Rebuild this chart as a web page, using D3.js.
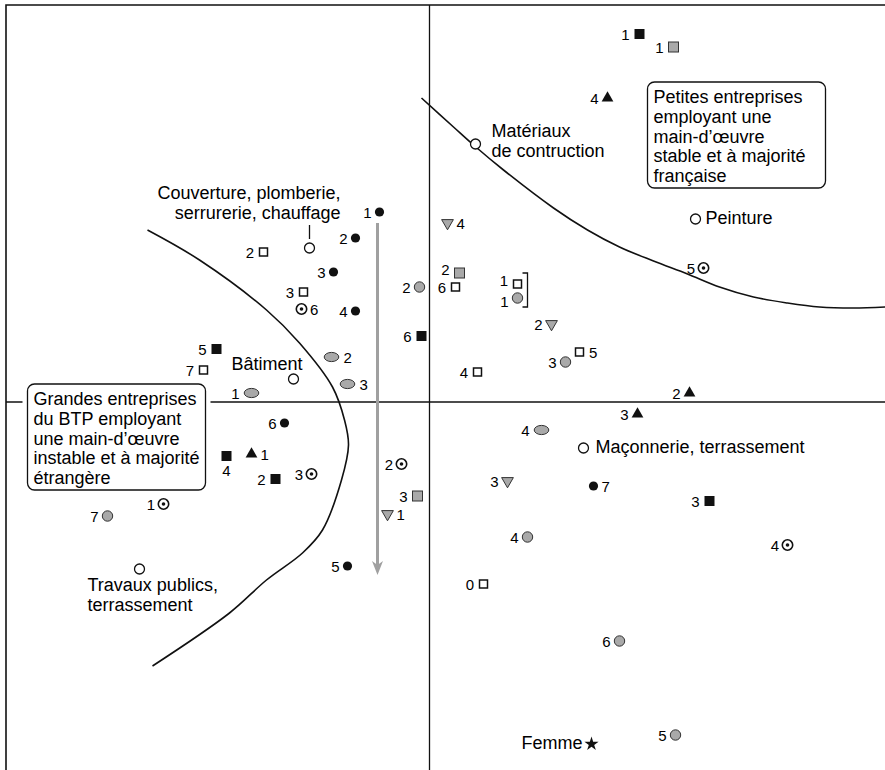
<!DOCTYPE html>
<html>
<head>
<meta charset="utf-8">
<script src="https://d3js.org/d3.v7.min.js"></script>
<style>
  body { margin: 0; background: #fff; }
  svg { display: block; font-family: "Liberation Sans", Arial, sans-serif; }
  .frame { stroke: #111; stroke-width: 1.6px; fill: none; }
  .axis { stroke: #111; stroke-width: 1.3px; fill: none; }
  .curve { stroke: #111; stroke-width: 1.6px; fill: none; }
  .num { font-size: 15px; fill: #000; }
  .lab { font-size: 18px; fill: #000; }
  .box rect { fill: #fff; stroke: #111; stroke-width: 1.3px; }
  .trend { stroke: #a0a0a0; stroke-width: 3px; fill: none; }
</style>
</head>
<body>
<script>
const blackDots = [
  {k: "1", x: -0.50, y: 1.90}, {k: "2", x: -0.74, y: 1.64}, {k: "3", x: -0.96, y: 1.30},
  {k: "4", x: -0.74, y: 0.91}, {k: "5", x: -0.82, y: -1.64}, {k: "6", x: -1.45, y: -0.21},
  {k: "7", x: 1.64, y: -0.84}
];
const openSquares = [
  {k: "0", x: 0.54, y: -1.82}, {k: "1", x: 0.88, y: 1.18}, {k: "2", x: -1.66, y: 1.50},
  {k: "3", x: -1.26, y: 1.10}, {k: "4", x: 0.48, y: 0.30}, {k: "5", x: 1.50, y: 0.50},
  {k: "6", x: 0.26, y: 1.15}, {k: "7", x: -2.26, y: 0.32}
];
const blackSquares = [
  {k: "1", x: 2.10, y: 3.68}, {k: "2", x: -1.54, y: -0.77}, {k: "3", x: 2.80, y: -0.99},
  {k: "4", x: -2.03, y: -0.54}, {k: "5", x: -2.13, y: 0.53}, {k: "6", x: -0.08, y: 0.66}
];
const greySquares = [
  {k: "1", x: 2.44, y: 3.55}, {k: "2", x: 0.30, y: 1.29}, {k: "3", x: -0.12, y: -0.94}
];
const greyDots = [
  {k: "1", x: 0.88, y: 1.04}, {k: "2", x: -0.10, y: 1.15}, {k: "3", x: 1.36, y: 0.40},
  {k: "4", x: 0.98, y: -1.35}, {k: "5", x: 2.46, y: -3.33}, {k: "6", x: 1.90, y: -2.39},
  {k: "7", x: -3.22, y: -1.14}
];
const greyEllipses = [
  {k: "1", x: -1.78, y: 0.09}, {k: "2", x: -0.98, y: 0.45}, {k: "3", x: -0.82, y: 0.18},
  {k: "4", x: 1.12, y: -0.28}
];
const targets = [
  {k: "1", x: -2.66, y: -1.02}, {k: "2", x: -0.28, y: -0.62}, {k: "3", x: -1.18, y: -0.72},
  {k: "4", x: 3.58, y: -1.43}, {k: "5", x: 2.74, y: 1.34}, {k: "6", x: -1.28, y: 0.93}
];
const upTriangles = [
  {k: "1", x: -1.78, y: -0.52}, {k: "2", x: 2.60, y: 0.09}, {k: "3", x: 2.08, y: -0.12},
  {k: "4", x: 1.78, y: 3.04}
];
const downTriangles = [
  {k: "1", x: -0.42, y: -1.12}, {k: "2", x: 1.22, y: 0.78}, {k: "3", x: 0.78, y: -0.79},
  {k: "4", x: 0.18, y: 1.79}
];
const sectors = [
  {name: ["Couverture, plomberie,", "serrurerie, chauffage"], x: -1.20, y: 1.54},
  {name: ["Bâtiment"], x: -1.36, y: 0.23},
  {name: ["Matériaux", "de contruction"], x: 0.46, y: 2.58},
  {name: ["Peinture"], x: 2.66, y: 1.83},
  {name: ["Maçonnerie, terrassement"], x: 1.54, y: -0.46},
  {name: ["Travaux publics,", "terrassement"], x: -2.90, y: -1.67}
];
const femme = {name: "Femme", x: 1.62, y: -3.42};

// trajectoire (flèche grise) et crochet 1□/1●
const trend = [{x: -0.52, y: 1.79}, {x: -0.52, y: -1.73}];
const bracket = {x: 0.98, y1: 1.29, y2: 0.95};

// courbes délimitant les deux pôles
const curveLeft = [
  [-2.82, 1.72], [-2.30, 1.42], [-1.63, 0.92], [-1.30, 0.59], [-0.97, 0.15],
  [-0.85, -0.18], [-0.81, -0.43], [-0.88, -0.78], [-1.07, -1.28], [-1.27, -1.51],
  [-1.63, -1.78], [-2.00, -2.11], [-2.77, -2.64]
];
const curveRight = [
  [-0.08, 3.04], [0.24, 2.75], [0.44, 2.57], [0.74, 2.32], [1.24, 1.94], [1.58, 1.72],
  [1.90, 1.55], [2.24, 1.41], [2.58, 1.28], [2.90, 1.15], [3.24, 1.05], [3.58, 0.99],
  [3.90, 0.95], [4.24, 0.94], [4.56, 0.95]
];
const boxes = [
  {lines: ["Grandes entreprises", "du BTP employant", "une main-d\u2019œuvre", "instable et à majorité", "étrangère"], x: -4.02, y: 0.18},
  {lines: ["Petites entreprises", "employant une", "main-d\u2019œuvre", "stable et à majorité", "française"], x: 2.18, y: 3.20}
];

// labels placés à droite (ou dessous) du symbole ; par défaut à gauche
const rightLabels = {dot: ["7"], osq: ["5"], ell: ["2", "3"], target: ["6"], up: ["1"], down: ["1", "4"]};
const belowLabels = {bsq: ["4"]};
const raisedLabels = {gsq: ["2"], osq: ["1"]};
const loweredLabels = {gdot: ["1"]};

const width = 885, height = 770;

const x = d3.scaleLinear().domain([-4.3, 4.6]).range([-0.5, 889.5]);
const y = d3.scaleLinear().domain([4.0, -3.7]).range([2, 772]);

const svg = d3.select("body").append("svg")
  .attr("width", width)
  .attr("height", height);

// cadre (coupé à droite et en bas)
svg.append("path").attr("class", "frame")
  .attr("d", "M6," + height + "V5H" + width);

// axes factoriels
svg.append("line").attr("class", "axis")
  .attr("x1", x(0)).attr("x2", x(0)).attr("y1", 5).attr("y2", height);
svg.append("line").attr("class", "axis")
  .attr("x1", 6).attr("x2", width).attr("y1", y(0)).attr("y2", y(0));

let line = d3.line().x(d => x(d[0])).y(d => y(d[1])).curve(d3.curveCatmullRom);
svg.append("path").attr("class", "curve").attr("d", line(curveLeft));
svg.append("path").attr("class", "curve").attr("d", line(curveRight));

// flèche grise
let tx = x(trend[0].x), ty1 = y(trend[0].y), ty2 = y(trend[1].y);
svg.append("line").attr("class", "trend")
  .attr("x1", tx).attr("x2", tx).attr("y1", ty1).attr("y2", ty2 - 8);
svg.append("path")
  .attr("fill", "#a0a0a0")
  .attr("d", `M${tx},${ty2}L${tx - 5.5},${ty2 - 14}L${tx},${ty2 - 10}L${tx + 5.5},${ty2 - 14}Z`);

// crochet
svg.append("path").attr("class", "axis")
  .attr("d", `M${x(bracket.x) - 5},${y(bracket.y1)}H${x(bracket.x)}V${y(bracket.y2)}H${x(bracket.x) - 5}`);

// encadrés
boxes.forEach(b => {
  let g = svg.append("g").attr("class", "box")
    .attr("transform", `translate(${x(b.x)},${y(b.y)})`);
  g.append("rect").attr("x", -5).attr("y", 0).attr("width", 188).attr("height", 106)
    .style("stroke", "none");
  g.append("rect").attr("x", 0).attr("y", 0).attr("width", 178).attr("height", 106)
    .attr("rx", 7);
  g.selectAll("text").data(b.lines).join("text")
    .attr("class", "lab")
    .attr("x", 6)
    .attr("y", (d, i) => 21 + i * 19.8)
    .text(d => d);
});

// symboles
const grey = "#a9a9a9";
function drawSymbol(g, sym) {
  if (sym === "dot") {
    g.append("circle").attr("r", 4.6).attr("fill", "#111");
  } else if (sym === "osq") {
    g.append("rect").attr("x", -4).attr("y", -4).attr("width", 8).attr("height", 8)
      .attr("fill", "#fff").attr("stroke", "#111").attr("stroke-width", 1.5);
  } else if (sym === "bsq") {
    g.append("rect").attr("x", -5).attr("y", -5).attr("width", 10).attr("height", 10).attr("fill", "#111");
  } else if (sym === "gsq") {
    g.append("rect").attr("x", -5).attr("y", -5).attr("width", 10).attr("height", 10)
      .attr("fill", grey).attr("stroke", "#333").attr("stroke-width", 1);
  } else if (sym === "gdot") {
    g.append("circle").attr("r", 5.2).attr("fill", grey).attr("stroke", "#333").attr("stroke-width", 1);
  } else if (sym === "ell") {
    g.append("ellipse").attr("rx", 7.3).attr("ry", 4.6)
      .attr("fill", grey).attr("stroke", "#333").attr("stroke-width", 1);
  } else if (sym === "target") {
    g.append("circle").attr("r", 5.2).attr("fill", "#fff").attr("stroke", "#111").attr("stroke-width", 1.6);
    g.append("circle").attr("r", 1.8).attr("fill", "#111");
  } else if (sym === "up") {
    g.append("path").attr("d", d3.symbol(d3.symbolTriangle, 60)()).attr("fill", "#111");
  } else if (sym === "down") {
    g.append("path").attr("d", d3.symbol(d3.symbolTriangle, 60)())
      .attr("transform", "rotate(180)")
      .attr("fill", grey).attr("stroke", "#333").attr("stroke-width", 1);
  } else if (sym === "sector") {
    g.append("circle").attr("r", 5).attr("fill", "#fff").attr("stroke", "#111").attr("stroke-width", 1.3);
  } else if (sym === "star") {
    g.append("path").attr("d", d3.symbol(d3.symbolStar, 62)()).attr("fill", "#111");
  }
}

const series = [
  {sym: "dot", pts: blackDots, off: 8},
  {sym: "osq", pts: openSquares, off: 9.5},
  {sym: "bsq", pts: blackSquares, off: 10},
  {sym: "gsq", pts: greySquares, off: 10},
  {sym: "gdot", pts: greyDots, off: 9},
  {sym: "ell", pts: greyEllipses, off: 12},
  {sym: "target", pts: targets, off: 8.5},
  {sym: "up", pts: upTriangles, off: 9},
  {sym: "down", pts: downTriangles, off: 9}
];

series.forEach(s => {
  let right = rightLabels[s.sym] || [];
  let below = belowLabels[s.sym] || [];
  let raised = raisedLabels[s.sym] || [];
  let lowered = loweredLabels[s.sym] || [];
  svg.append("g").selectAll("g")
    .data(s.pts)
    .join("g")
      .attr("transform", d => `translate(${x(d.x)},${y(d.y)})`)
      .each(function (d) {
        let g = d3.select(this);
        drawSymbol(g, s.sym);
        let t = g.append("text").attr("class", "num").text(d.k);
        let base = raised.includes(d.k) ? 2 : lowered.includes(d.k) ? 8.5 : 5.5;
        if (below.includes(d.k)) {
          t.attr("x", 0).attr("y", 20).attr("text-anchor", "middle");
        } else if (right.includes(d.k)) {
          t.attr("x", s.off).attr("y", base);
        } else {
          t.attr("x", -s.off).attr("y", base).attr("text-anchor", "end");
        }
      });
});

// secteurs d'activité
const sectorText = {
  "Couverture, plomberie,": {anchor: "end", dx: 31, dy: -49, leader: [-23, -9]},
  "Bâtiment": {anchor: "end", dx: 9, dy: -9},
  "Matériaux": {anchor: "start", dx: 16, dy: -7},
  "Peinture": {anchor: "start", dx: 10, dy: 5},
  "Maçonnerie, terrassement": {anchor: "start", dx: 12, dy: 5},
  "Travaux publics,": {anchor: "start", dx: -52, dy: 22}
};
svg.append("g").selectAll("g")
  .data(sectors)
  .join("g")
    .attr("transform", d => `translate(${x(d.x)},${y(d.y)})`)
    .each(function (d) {
      let g = d3.select(this);
      let p = sectorText[d.name[0]];
      if (p.leader) {
        g.append("line").attr("class", "axis").attr("stroke-width", 1)
          .attr("x1", 0).attr("x2", 0).attr("y1", p.leader[0]).attr("y2", p.leader[1]);
      }
      drawSymbol(g, "sector");
      g.selectAll("text").data(d.name).join("text")
        .attr("class", "lab")
        .attr("text-anchor", p.anchor)
        .attr("x", p.dx)
        .attr("y", (t, i) => p.dy + i * 19.5)
        .text(t => t);
    });

let fg = svg.append("g").attr("transform", `translate(${x(femme.x)},${y(femme.y)})`);
drawSymbol(fg, "star");
fg.append("text").attr("class", "lab").attr("text-anchor", "end")
  .attr("x", -9).attr("y", 5).text(femme.name);
</script>
</body>
</html>
